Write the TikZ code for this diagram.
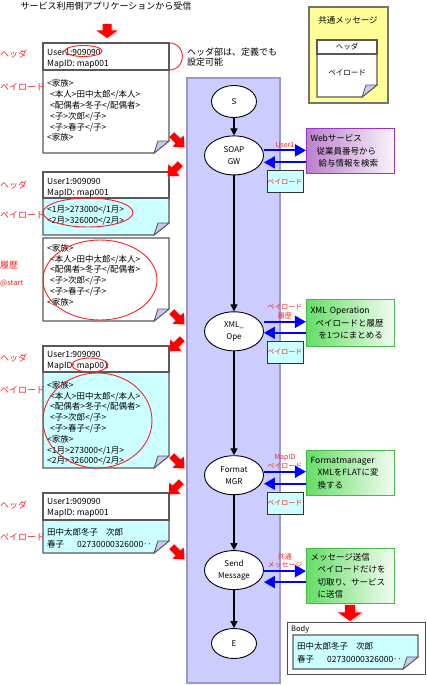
\documentclass[tikz,border=0pt]{standalone}
\usepackage{fontspec}
\setmainfont{Noto Sans CJK JP}
\usetikzlibrary{shapes.geometric, arrows.meta, positioning, calc}

\definecolor{lanefill}{HTML}{CCCCFF}
\definecolor{laneline}{HTML}{9999CC}
\definecolor{paycyan}{HTML}{CCFFFF}
\definecolor{foldcol}{HTML}{C8C8F0}
\definecolor{markred}{HTML}{FF2020}
\definecolor{webline}{HTML}{9933CC}
\definecolor{webfill}{HTML}{BB80CC}
\definecolor{opline}{HTML}{44BB44}
\definecolor{opfill}{HTML}{66DD66}
\definecolor{notefill}{HTML}{FFFF99}

\tikzset{
  pageline/.style={draw=black!65, line width=1.1pt},
  doctext/.style={anchor=north west, inner sep=0pt, align=left, font=\fontsize{8.5}{10.8}\selectfont},
  headtext/.style={doctext, font=\fontsize{8.5}{11}\selectfont},
  sidelbl/.style={anchor=west, inner sep=0pt, text=markred, font=\fontsize{9}{10}\selectfont},
  stage/.style={ellipse, draw, fill=white, line width=0.9pt, minimum width=59pt, minimum height=39pt, inner sep=0pt, align=center, font=\fontsize{8}{12}\selectfont},
  endpt/.style={stage, minimum width=45pt, minimum height=32pt},
  svcbox/.style={draw=webline, line width=1.2pt, left color=webfill, right color=webfill!8, minimum width=88pt, text width=80pt, inner sep=4pt, align=left, font=\fontsize{8.5}{12.5}\selectfont},
  opbox/.style={svcbox, draw=opline, left color=opfill, right color=opfill!8},
  flow/.style={-{Triangle[length=7pt,width=7pt]}, line width=1.2pt},
  bluearrow/.style={blue, line width=2pt, -{Triangle[length=11pt,width=12pt]}},
  lbl/.style={text=markred, font=\fontsize{7}{8.5}\selectfont, align=center, inner sep=1pt},
  paybox/.style={draw=black!80, fill=paycyan, text=markred, line width=0.8pt, font=\fontsize{7}{8}\selectfont, minimum width=36pt, minimum height=22pt, inner sep=0pt},
  markring/.style={draw=markred, line width=0.9pt},
}

% page with folded corner: x0, y0, x1, y1, fill
\newcommand{\foldpage}[5]{%
  \filldraw[pageline, fill=#5] (#1,#2) -- (#3,#2) -- (#3,#4-12) -- (#3-15,#4) -- (#1,#4) -- cycle;
  \filldraw[pageline, fill=foldcol, line width=0.8pt] (#3-11,#4-12) -- (#3,#4-12) -- (#3-15,#4) -- cycle;}
% header strip: x0, y0, x1, y1
\newcommand{\headstrip}[4]{%
  \filldraw[pageline, fill=white] (#1,#2) rectangle (#3,#4);}
% red block arrow: x, y, angle
\newcommand{\fatarrow}[3]{%
  \fill[red!30, opacity=0.5, shift={(#1+1.5,#2+1.5)}, rotate=#3] (-9,-3.5) -- (0,-3.5) -- (0,-8) -- (9,0) -- (0,8) -- (0,3.5) -- (-9,3.5) -- cycle;
  \fill[red, shift={(#1,#2)}, rotate=#3] (-9,-3.5) -- (0,-3.5) -- (0,-8) -- (9,0) -- (0,8) -- (0,3.5) -- (-9,3.5) -- cycle;}
% red block arrow pointing down: x, y, scale
\newcommand{\downblock}[3]{%
  \fill[red!30, opacity=0.5, shift={(#1+1.5,#2+1.5)}, scale=#3] (-4.5,-7) -- (4.5,-7) -- (4.5,-0.5) -- (10.5,-0.5) -- (0,7) -- (-10.5,-0.5) -- (-4.5,-0.5) -- cycle;
  \fill[red, shift={(#1,#2)}, scale=#3] (-4.5,-7) -- (4.5,-7) -- (4.5,-0.5) -- (10.5,-0.5) -- (0,7) -- (-10.5,-0.5) -- (-4.5,-0.5) -- cycle;}

\begin{document}
\begin{tikzpicture}[x=1pt, y=-1pt]
  \useasboundingbox (0,0) rectangle (427,685);

  % process lane
  \filldraw[draw=laneline, fill=lanefill, line width=1.2pt] (187,78) rectangle (280,683);

  % incoming message
  \node (title) [inner sep=0pt, font=\fontsize{9}{10}\selectfont] at (106,6) {サービス利用側アプリケーションから受信};
  \downblock{107}{31}{1}

  % common message legend
  \node (legend) [draw=black!55, fill=notefill, line width=1.2pt, minimum width=79pt, minimum height=96pt] at (348.5,55) {};
  \node (legendt) [inner sep=0pt, font=\fontsize{8.5}{10}\selectfont] at (348,20) {共通メッセージ};
  \foldpage{317}{40}{377}{97}{white}
  \headstrip{317}{40}{377}{54}
  \node (legendh) [inner sep=0pt, font=\fontsize{7.5}{9}\selectfont] at (347,47) {ヘッダ};
  \node (legendp) [inner sep=0pt, font=\fontsize{7.5}{9}\selectfont] at (347,73) {ペイロード};

  % message 1
  \foldpage{43}{43}{169}{153}{white}
  \headstrip{43}{43}{169}{70}
  \node (m1h) [headtext] at (47,49) {User1:909090\\MapID: map001};
  \node (m1p) [doctext] at (47,79.5) {<家族>\\\hspace*{3pt}<本人>田中太郎</本人>\\\hspace*{3pt}<配偶者>冬子</配偶者>\\\hspace*{3pt}<子>次郎</子>\\\hspace*{3pt}<子>春子</子>\\<家族>};
  \draw[markring] (83.5,51) ellipse [x radius=18.5, y radius=5.5];
  \draw[markring] (169,43) .. controls (187,43) and (187,70) .. (169,70);
  \node (hnote) [anchor=north west, inner sep=0pt, align=left, font=\fontsize{9}{10}\selectfont] at (187,48) {ヘッダ部は、定義でも\\設定可能};
  \node (m1hl) [sidelbl] at (0,54) {ヘッダ};
  \node (m1pl) [sidelbl] at (0,87) {ペイロード};

  % message 2 and history
  \foldpage{43}{172}{169}{235}{paycyan}
  \headstrip{43}{172}{169}{198}
  \node (m2h) [headtext] at (47,178) {User1:909090\\MapID: map001};
  \node (m2p) [doctext] at (47,206) {<1月>273000</1月>\\<2月>326000</2月>};
  \draw[markring] (88,212.5) ellipse [x radius=45, y radius=14.5];
  \foldpage{43}{238}{169}{321}{white}
  \node (hist) [doctext] at (47,244) {<家族>\\\hspace*{3pt}<本人>田中太郎</本人>\\\hspace*{3pt}<配偶者>冬子</配偶者>\\\hspace*{3pt}<子>次郎</子>\\\hspace*{3pt}<子>春子</子>\\<家族>};
  \draw[markring] (100,280) ellipse [x radius=57, y radius=40];
  \node (m2hl) [sidelbl] at (0,185) {ヘッダ};
  \node (m2pl) [sidelbl] at (0,215) {ペイロード};
  \node (histl) [sidelbl] at (0,265) {履歴};
  \node (hists) [sidelbl, font=\fontsize{7.5}{8}\selectfont] at (0,283) {@start};

  % message 3
  \foldpage{43}{346}{169}{468}{paycyan}
  \headstrip{43}{346}{169}{372}
  \node (m3h) [headtext] at (47,351) {User1:909090\\MapID: map001};
  \node (m3p) [doctext] at (47,381) {<家族>\\\hspace*{3pt}<本人>田中太郎</本人>\\\hspace*{3pt}<配偶者>冬子</配偶者>\\\hspace*{3pt}<子>次郎</子>\\\hspace*{3pt}<子>春子</子>\\<家族>\\<1月>273000</1月>\\<2月>326000</2月>};
  \draw[markring] (90,365) ellipse [x radius=18, y radius=7];
  \draw[markring] (97.5,420.5) ellipse [x radius=54.5, y radius=47.5];
  \node (m3hl) [sidelbl] at (0,358) {ヘッダ};
  \node (m3pl) [sidelbl] at (0,390) {ペイロード};

  % message 4
  \foldpage{43}{493}{169}{553}{paycyan}
  \headstrip{43}{493}{169}{520}
  \node (m4h) [headtext] at (47,498) {User1:909090\\MapID: map001};
  \node (m4p) [doctext, font=\fontsize{8.5}{12}\selectfont] at (47,528) {\makebox[59pt][l]{田中太郎冬子}次郎\\\makebox[30pt][l]{春子}02730000326000‥};
  \node (m4hl) [sidelbl] at (0,505) {ヘッダ};
  \node (m4pl) [sidelbl] at (0,537) {ペイロード};

  % red hand-over arrows
  \fatarrow{178}{141}{-45}
  \fatarrow{174}{170}{-135}
  \fatarrow{178}{318}{-45}
  \fatarrow{176}{345}{-135}
  \fatarrow{178}{462}{-45}
  \fatarrow{175}{488}{-135}
  \fatarrow{178}{553}{-45}

  % stages
  \node (s) [endpt] at (234,101.5) {S};
  \node (soapgw) [stage, below=17.5pt of s] {SOAP\\GW};
  \node (xmlope) [stage, below=136pt of soapgw] {XML\_\\Ope};
  \node (fmtmgr) [stage, below=104pt of xmlope] {Format\\MGR};
  \node (sendmsg) [stage, below=55pt of fmtmgr] {Send\\Message};
  \node (e) [endpt, minimum height=30pt, below=38pt of sendmsg] {E};

  \path [flow]
      (s) edge (soapgw)
      (soapgw) edge (xmlope)
      (xmlope) edge (fmtmgr)
      (fmtmgr) edge (sendmsg)
      (sendmsg) edge (e);

  % services
  \node (websvc) [svcbox, minimum height=45pt, right=42pt of soapgw, yshift=4.5pt] {Webサービス\\\hspace*{6pt}従業員番号から\\\hspace*{8pt}給与情報を検索};
  \node (xmlbox) [opbox, minimum height=47pt, right=42pt of xmlope, yshift=8pt] {XML Operation\\\hspace*{5pt}ペイロードと履歴\\\hspace*{8pt}を1つにまとめる};
  \node (fmtbox) [opbox, minimum height=45pt, right=42pt of fmtmgr, yshift=2pt] {Formatmanager\\\hspace*{7pt}XMLをFLATに変\\\hspace*{7pt}換する};
  \node (sendbox) [opbox, minimum height=55pt, right=42pt of sendmsg, yshift=-5.5pt] {メッセージ送信\\\hspace*{7pt}ペイロードだけを\\\hspace*{7pt}切取り、サービス\\\hspace*{7pt}に送信};

  \coordinate (w1) at ($(websvc.west)+(0,-0.5)$);
  \coordinate (w2) at ($(websvc.west)+(0,11.5)$);
  \coordinate (x1) at ($(xmlbox.west)+(0,-1.5)$);
  \coordinate (x2) at ($(xmlbox.west)+(0,9.5)$);
  \coordinate (f1) at ($(fmtbox.west)+(0,-1.5)$);
  \coordinate (f2) at ($(fmtbox.west)+(0,10.5)$);
  \coordinate (n1) at ($(sendbox.west)+(0,-4.5)$);
  \coordinate (n2) at ($(sendbox.west)+(0,6.5)$);

  \path [bluearrow]
      (w1 -| soapgw.east) edge node[lbl, above=1pt] {User1} (w1)
      (w2) edge node[paybox, below=8pt] {ペイロード} (w2 -| soapgw.east)
      (x1 -| xmlope.east) edge node[lbl, above=1pt] {ペイロード\\履歴} (x1)
      (x2) edge node[paybox, below=8pt] {ペイロード} (x2 -| xmlope.east)
      (f1 -| fmtmgr.east) edge node[lbl, above=1pt] {MapID\\ペイロード} (f1)
      (f2) edge node[paybox, below=8pt] {ペイロード} (f2 -| fmtmgr.east)
      (n1 -| sendmsg.east) edge node[lbl, above=1pt] {共通\\メッセージ} (n1)
      (n2) edge (n2 -| sendmsg.east);

  % body sent to the service
  \downblock{350}{613}{1.15}
  \draw[black!70, line width=1pt] (287,622) rectangle (425,674);
  \node (bodyl) [anchor=west, inner sep=0pt, font=\fontsize{7.5}{9}\selectfont] at (291,629) {Body};
  \foldpage{293}{635}{418}{669}{paycyan}
  \node (bodyp) [doctext, font=\fontsize{8.5}{13}\selectfont] at (297,642) {\makebox[59pt][l]{田中太郎冬子}次郎\\\makebox[30pt][l]{春子}02730000326000‥};
\end{tikzpicture}
\end{document}
